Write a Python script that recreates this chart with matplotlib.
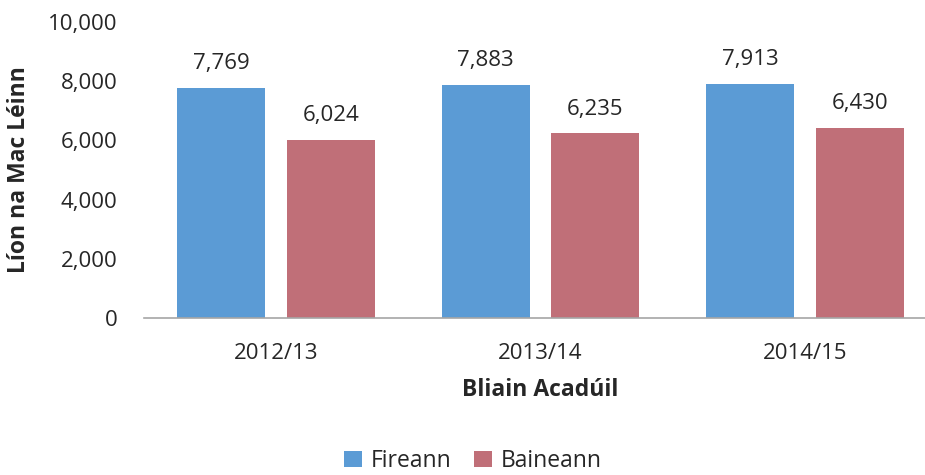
import numpy as np
import matplotlib.pyplot as plt

plt.rcParams['font.family'] = ['Open Sans', 'DejaVu Sans']

years = ['2012/13', '2013/14', '2014/15']
fireann = [7769, 7883, 7913]
baineann = [6024, 6235, 6430]

blue = '#5B9BD5'
red = '#C06F78'
txt = '#262626'

fig = plt.figure(figsize=(9.25, 4.75), dpi=100)
ax = fig.add_axes([144 / 925, 1 - 318 / 475, 793 / 925, 296 / 475])

x = np.arange(len(years))
w = 0.333
off = 0.208
b1 = ax.bar(x - off, fireann, w, color=blue, label='Fireann')
b2 = ax.bar(x + off, baineann, w, color=red, label='Baineann')

for bars in (b1, b2):
    for b in bars:
        h = b.get_height()
        ax.annotate(f'{h:,.0f}', (b.get_x() + b.get_width() / 2, h),
                    xytext=(0, 10), textcoords='offset points',
                    ha='center', va='bottom', fontsize=16, color=txt)

ax.set_xlim(-0.5, 2.5)
ax.set_ylim(0, 10000)
ax.set_yticks(range(0, 10001, 2000))
ax.set_yticklabels([f'{v:,}' for v in range(0, 10001, 2000)])
ax.set_xticks(x)
ax.set_xticklabels(years)
ax.tick_params(axis='both', length=0, labelsize=16, colors=txt)
ax.tick_params(axis='x', pad=18)
ax.tick_params(axis='y', pad=19)

for s in ['top', 'right', 'left']:
    ax.spines[s].set_visible(False)
ax.spines['bottom'].set_color('#A6A6A6')
ax.spines['bottom'].set_linewidth(1.2)

ax.set_xlabel('Bliain Acadúil', fontsize=16.5, fontweight='bold', color=txt, labelpad=10)
ax.set_ylabel('Líon na Mac Léinn', fontsize=16.5, fontweight='bold', color=txt, labelpad=12)

fig.legend(loc='center', bbox_to_anchor=(473 / 925, 1 - 461 / 475), ncol=2, frameon=False,
           fontsize=16.5, handlelength=0.75, handleheight=0.75, handletextpad=0.4,
           columnspacing=1.0, labelcolor=txt)

fig.savefig('out.png', dpi=100)
